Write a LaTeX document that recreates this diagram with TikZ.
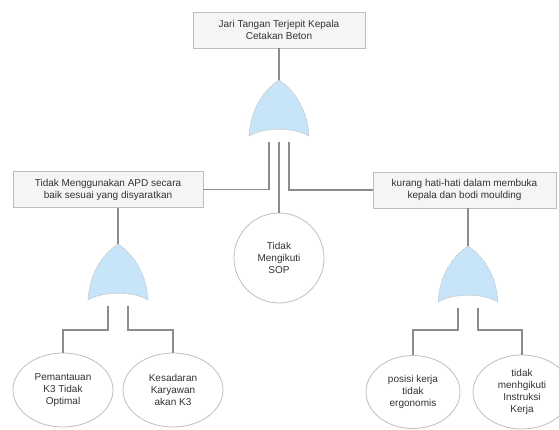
\documentclass[tikz,border=0pt]{standalone}
\usepackage{fontspec}
\setmainfont{Liberation Sans}
\usetikzlibrary{shapes.geometric, positioning}
\definecolor{wiregray}{RGB}{140,140,140}
\definecolor{boxfill}{RGB}{245,245,245}
\definecolor{boxline}{RGB}{190,190,190}
\definecolor{gatefill}{RGB}{200,228,248}
\definecolor{textgray}{RGB}{50,50,50}

\begin{document}
\begin{tikzpicture}[
        x=1pt, y=-1pt,
        font=\fontsize{10}{12}\selectfont, text=textgray,
        event/.style={draw=boxline, fill=boxfill, line width=0.8pt, minimum height=36pt, align=center, inner sep=2pt},
        basic/.style={draw=boxline, ellipse, line width=0.8pt, fill=white, minimum width=100pt, minimum height=74pt, align=center, inner sep=0pt},
        wire/.style={draw=wiregray, line width=1.3pt},
        orgate/.pic={
            \path[fill=gatefill, draw=gray!55, dashed, dash pattern=on 1.2pt off 1pt, line width=0.6pt]
                (-30,56) .. controls (-28,25) and (-12,8) .. (0,0)
                .. controls (12,8) and (28,25) .. (30,56)
                .. controls (15,47) and (-15,47) .. cycle;
            \coordinate (-apex) at (0,0);
            \coordinate (-l) at (-10,62);
            \coordinate (-m) at (0,62);
            \coordinate (-r) at (10,62);
        }
    ]
    \useasboundingbox (0,0) rectangle (559,430);

    \node[event, minimum width=172pt] (top) at (279,30) {Jari Tangan Terjepit Kepala\\Cetakan Beton};
    \pic (g0) at (279,80) {orgate};

    \node[event, minimum width=190pt] (apd) at (108,189.5) {Tidak Menggunakan APD secara\\baik sesuai yang disyaratkan};
    \node[event, minimum width=183pt] (hati) at (464.5,190) {kurang hati-hati dalam membuka\\kepala dan bodi moulding};
    \node[basic, circle, minimum size=90pt] (sop) at (279,258) {Tidak\\Mengikuti\\SOP};

    \pic (g1) at (118,244) {orgate};
    \pic (g2) at (468,246) {orgate};

    \node[basic] (pantau) at (63,390) {Pemantauan\\K3 Tidak\\Optimal};
    \node[basic] (sadar) at (173,390) {Kesadaran\\Karyawan\\akan K3};
    \node[basic, minimum width=94pt, minimum height=73pt] (posisi) at (413,392) {posisi kerja\\tidak\\ergonomis};
    \node[basic, minimum width=98pt] (instruksi) at (522,392) {tidak\\menhgikuti\\Instruksi\\Kerja};

    \draw[wire] (top) -- (g0-apex);
    \draw[wire] (g0-l) |- (apd.east);
    \draw[wire] (g0-m) -- (sop.north);
    \draw[wire] (g0-r) |- (hati.west);

    \draw[wire] (apd.south -| g1-apex) -- (g1-apex);
    \draw[wire] (g1-l) -- ++(0,24) -| (pantau.north);
    \draw[wire] (g1-r) -- ++(0,24) -| (sadar.north);

    \draw[wire] (hati.south -| g2-apex) -- (g2-apex);
    \draw[wire] (g2-l) -- ++(0,22) -| (posisi.north);
    \draw[wire] (g2-r) -- ++(0,22) -| (instruksi.north);

\end{tikzpicture}
\end{document}
